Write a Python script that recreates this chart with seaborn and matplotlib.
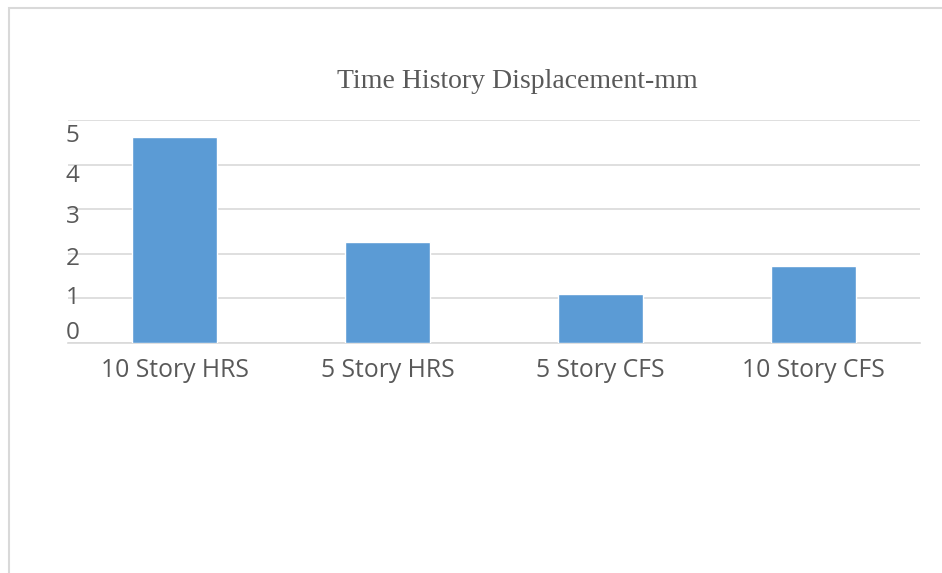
import pandas as pd
import matplotlib.pyplot as plt
import matplotlib.transforms as mtransforms
import seaborn as sns
from matplotlib.patches import Rectangle

sns.set_theme(style="white")

# ── Data ──────────────────────────────────────────────────────────────────────
categories = ["10 Story HRS", "5 Story HRS", "5 Story CFS", "10 Story CFS"]
displacement = [4.61, 2.26, 1.10, 1.73]
y_ticks = [0, 1, 2, 3, 4, 5]

df = pd.DataFrame({"case": categories, "disp": displacement})

W, H = 942, 573
fig = plt.figure(figsize=(W / 100, H / 100), dpi=100)
ax = fig.add_axes([68 / W, 1 - 343 / H, (920 - 68) / W, (343 - 120) / H])

sns.barplot(data=df, x="case", y="disp", color="#5B9BD5", width=0.40,
            saturation=1, ax=ax, zorder=3)

ax.set_ylim(0, 5)
ax.set_yticks(y_ticks)
ax.set_xlim(-0.5, 3.5)
ax.yaxis.grid(True, color="#d9d9d9", linewidth=1.2, zorder=0)
ax.set_axisbelow(True)
for side in ["top", "right", "left"]:
    ax.spines[side].set_visible(False)
ax.spines["bottom"].set_color("#d9d9d9")
ax.spines["bottom"].set_linewidth(1.2)
ax.tick_params(axis="both", length=0, colors="#595959")
ax.tick_params(axis="y", pad=1.5, labelsize=17.5)
ax.tick_params(axis="x", pad=10.5, labelsize=17.8)

# the y labels drift off their gridlines in the original (excel-style squeeze)
shift_px = {0: -13, 1: -3, 2: 2, 3: 5, 4: 8, 5: 13}
for lab, v in zip(ax.get_yticklabels(), y_ticks):
    lab.set_horizontalalignment("left")
    lab.set_family("Open Sans")
    off = mtransforms.ScaledTranslation(0, -shift_px[v] / 100, fig.dpi_scale_trans)
    lab.set_transform(lab.get_transform() + off)
for lab in ax.get_xticklabels():
    lab.set_family("Open Sans")
ax.set_xlabel("")
ax.set_ylabel("")

fig.text(517 / W, 1 - 78 / H, "Time History Displacement-mm", ha="center",
         va="center_baseline", fontsize=20, color="#595959",
         family="Liberation Serif")

# chart border (only top and left edges fall inside the image)
fig.patches.append(Rectangle((9 / W, -0.1), 1.2, 1 - 8 / H + 0.1,
                             transform=fig.transFigure, fill=False,
                             edgecolor="#d9d9d9", linewidth=1.5))

fig.savefig("out.png", dpi=100)
